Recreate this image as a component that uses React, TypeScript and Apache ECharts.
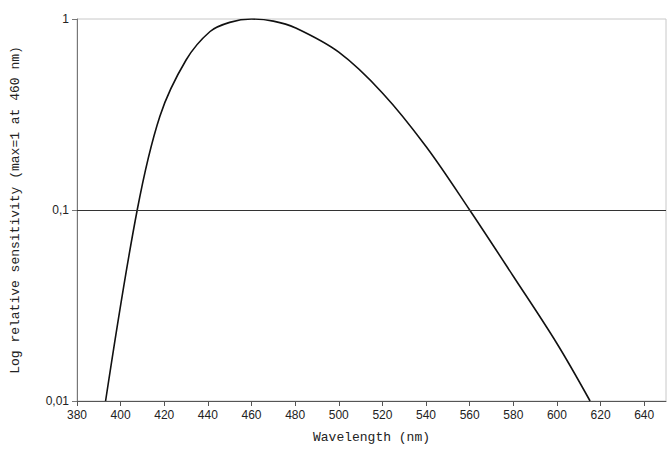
import React, { useEffect, useRef } from 'react'
import * as echarts from 'echarts'

const wavelengths = [393.1, 407.6, 418, 430, 441, 450, 460, 470, 480, 500, 520, 540, 560, 580, 600, 615.2]
const sensitivity = [0.01, 0.1, 0.31, 0.61, 0.86, 0.96, 1.0, 0.975, 0.9, 0.67, 0.41, 0.215, 0.1, 0.045, 0.02, 0.01]
const yLabels: Record<string, string> = { '0.01': '0,01', '0.1': '0,1', '1': '1' }

export default function App() {
  const ref = useRef<HTMLDivElement>(null)

  useEffect(() => {
    document.body.style.margin = '0'
    if (!ref.current) return
    const chart = echarts.init(ref.current, undefined, { renderer: 'svg' })
    chart.setOption({
      animation: false,
      backgroundColor: '#fff',
      grid: { left: 77, right: 3, top: 19, bottom: 57, show: true, borderColor: '#c8c8c8', borderWidth: 1 },
      xAxis: {
        type: 'value',
        min: 380,
        max: 650,
        interval: 20,
        name: 'Wavelength (nm)',
        nameLocation: 'middle',
        nameGap: 30,
        nameTextStyle: { fontFamily: 'Liberation Mono', fontSize: 13, color: '#222' },
        axisLine: { lineStyle: { color: '#555' } },
        axisTick: { lineStyle: { color: '#555' }, length: 5 },
        axisLabel: { fontFamily: 'Liberation Sans', fontSize: 12, color: '#222', showMaxLabel: false },
        splitLine: { show: false }
      },
      yAxis: {
        type: 'log',
        min: 0.01,
        max: 1,
        logBase: 10,
        name: 'Log relative sensitivity (max=1 at 460 nm)',
        nameLocation: 'middle',
        nameGap: 55,
        nameTextStyle: { fontFamily: 'Liberation Mono', fontSize: 13, color: '#222' },
        axisLine: { show: true, lineStyle: { color: '#777' } },
        axisTick: { show: true, lineStyle: { color: '#777' }, length: 5 },
        axisLabel: {
          fontFamily: 'Liberation Sans', fontSize: 12, color: '#222',
          formatter: (v: number) => yLabels[String(+v.toPrecision(3))] ?? String(v)
        },
        splitLine: { show: false }
      },
      series: [{
        type: 'line',
        smooth: 0.35,
        symbol: 'none',
        data: wavelengths.map((w, i) => [w, sensitivity[i]]),
        lineStyle: { color: '#111', width: 1.6 },
        markLine: {
          silent: true,
          symbol: 'none',
          label: { show: false },
          lineStyle: { color: '#333', type: 'solid', width: 1 },
          data: [{ yAxis: 0.1 }]
        }
      }]
    })
    return () => chart.dispose()
  }, [])

  return <div ref={ref} style={{ width: 669, height: 458 }} />
}
